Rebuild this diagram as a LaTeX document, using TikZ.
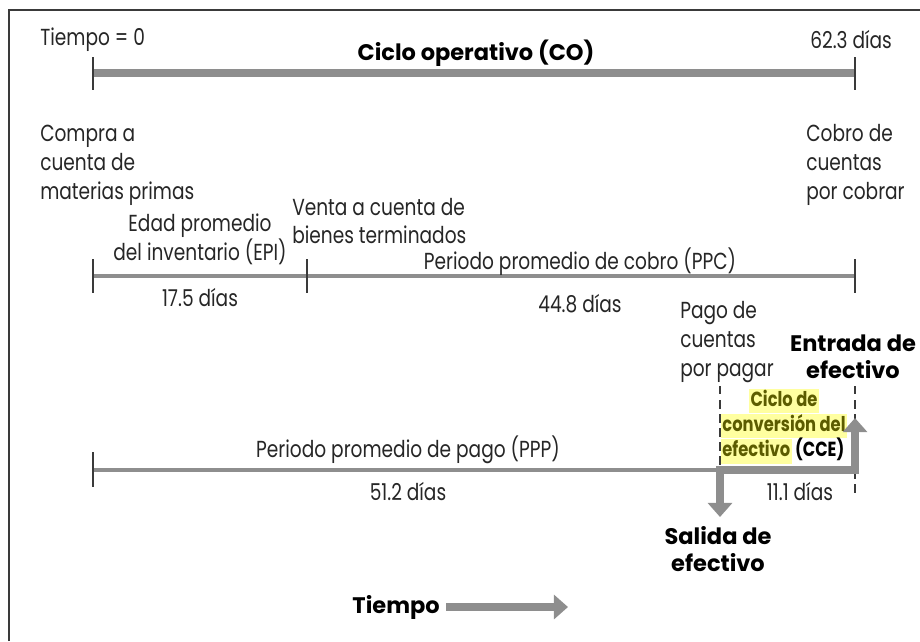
\documentclass[tikz,border=0pt]{standalone}
\usepackage{fontspec}
\setmainfont{Poppins}[FakeStretch=0.8]
\newfontfamily\negrita{Poppins}
\usetikzlibrary{positioning,arrows.meta}

\definecolor{barra}{HTML}{8E8E8E}
\definecolor{marca}{HTML}{3A3A3A}
\definecolor{resalte}{HTML}{FFFFA0}
\definecolor{oliva}{HTML}{5C5C00}

\begin{document}
\begin{tikzpicture}[x=0.025cm, y=-0.025cm,
    txt/.style = {font=\fontsize{16.5}{20.5}\selectfont, inner sep=0pt, text=black!85},
    fuerte/.style = {font=\negrita\fontsize{16}{19.5}\selectfont\bfseries, inner sep=0pt, align=center},
    marca/.style = {draw=marca, line width=1.3pt},
    fina/.style = {draw=barra, line width=2.2pt},
    gruesa/.style = {draw=barra, line width=5.6pt},
    flecha/.style = {gruesa, -{Triangle[length=10pt, width=17pt]}},
    guia/.style = {draw=marca, line width=1pt, dash pattern=on 6pt off 4pt},
    cce/.style = {font=\fontsize{14.5}{18}\selectfont\bfseries, text=oliva, fill=resalte,
        inner xsep=1pt, inner ysep=1.5pt, text height=11pt, text depth=3.5pt}]

    \useasboundingbox (0,0) rectangle (920,641);
    \draw[marca, line width=1.5pt] (9,641) -- (9,10) -- (920,10);

    % ciclo operativo
    \coordinate (co0) at (93,73);
    \coordinate (co1) at (855,73);
    \draw[gruesa] (co0) -- (co1);
    \draw[marca] (93,57) -- (93,90);
    \draw[marca] (855,57) -- (855,90);
    \node[txt, anchor=west] (t0) at (40,40) {Tiempo = 0};
    \node[fuerte] (co) at (476,53) {Ciclo operativo (CO)};
    \node[txt, anchor=west] (tf) at (810,40) {62.3 días};

    \node[txt, anchor=west, align=left] (compra) at (40,165) {Compra a\\cuenta de\\materias primas};
    \node[txt, anchor=west, align=left] (cobro) at (806,165) {Cobro de\\cuentas\\por cobrar};

    % EPI y PPC
    \coordinate (epi0) at (93,276);
    \coordinate (epi1) at (307,276);
    \coordinate (ppc1) at (855,276);
    \draw[fina] (epi0) -- (epi1) -- (ppc1);
    \draw[marca] (93,259) -- (93,293);
    \draw[marca] (307,259) -- (307,293);
    \draw[marca] (855,259) -- (855,293);
    \node[txt, align=center] (epi) at (200,239) {Edad promedio\\del inventario (EPI)};
    \node[txt, anchor=west, align=left] (venta) at (292,221) {Venta a cuenta de\\bienes terminados};
    \node[txt] (ppc) at (580,262) {Periodo promedio de cobro (PPC)};
    \node[txt] (depi) at (200,298) {17.5 días};
    \node[txt] (dppc) at (580,304) {44.8 días};

    % PPP y CCE
    \node[txt, anchor=west, align=left] (pago) at (680,342) {Pago de\\cuentas\\por pagar};
    \node[fuerte] (entrada) at (853,357) {Entrada de\\efectivo};
    \draw[guia] (720,386) -- (720,470);
    \draw[guia] (855,386) -- (855,496);

    \node[cce] (cce1) at (784,401) {Ciclo de};
    \node[cce, below=0pt of cce1] (cce2) {conversión del};
    \node[cce, anchor=north west] (cce3) at (cce2.south west) {efectivo};
    \node[inner sep=0pt, font=\fontsize{14.5}{18}\selectfont\bfseries, anchor=base west]
        (cce4) at ([xshift=2pt]cce3.base east) {(CCE)};

    \coordinate (ppp0) at (93,470);
    \coordinate (ppp1) at (720,470);
    \coordinate (cce0) at (855,470);
    \draw[fina] (ppp0) -- (ppp1);
    \draw[marca] (93,452) -- (93,487);
    \draw[gruesa, {Triangle[length=10pt, width=17pt]}-{Triangle[length=10pt, width=17pt]}]
        (720,517) -- (ppp1) -- (cce0) -- (855,418);
    \node[txt] (ppp) at (408,450) {Periodo promedio de pago (PPP)};
    \node[txt] (dppp) at (408,492) {51.2 días};
    \node[txt] (dcce) at (800,492) {11.1 días};
    \node[fuerte] (salida) at (718,549) {Salida de\\efectivo};

    % tiempo
    \node[fuerte, anchor=east] (tiempo) at (440,607) {Tiempo};
    \coordinate (fin) at (568,607);
    \draw[flecha] (tiempo.east) ++(6,0) -- (fin);
\end{tikzpicture}
\end{document}
